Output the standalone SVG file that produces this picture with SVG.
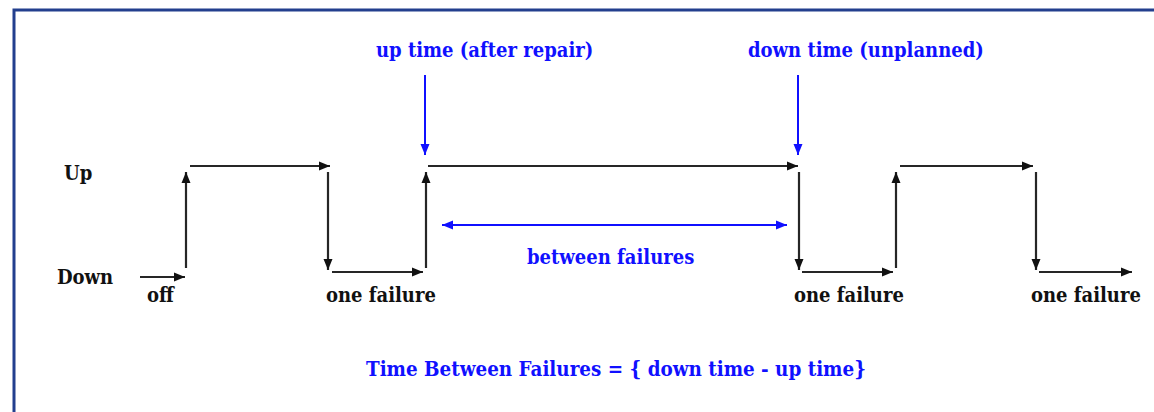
<svg xmlns="http://www.w3.org/2000/svg" width="1154" height="412" viewBox="0 0 1154 412">
  <style>
    .lbl { font-family: "DejaVu Serif Condensed", "DejaVu Serif", "Liberation Serif", serif; font-stretch: condensed; font-weight: bold; font-size: 20px; }
    .dark { fill: #111; }
    .blue { fill: #1010ff; }
    .sig { stroke: #262626; stroke-width: 2.2; fill: none; marker-end: url(#headBlack); }
    .mark { stroke: #1010ff; stroke-width: 2; fill: none; }
  </style>
  <defs>
    <marker id="headBlack" markerUnits="userSpaceOnUse" markerWidth="12" markerHeight="10" refX="11" refY="5" orient="auto">
      <path d="M0,0.5 L11,5 L0,9.5 z" fill="#111"/>
    </marker>
    <marker id="headBlue" markerUnits="userSpaceOnUse" markerWidth="12" markerHeight="10" refX="11" refY="5" orient="auto-start-reverse">
      <path d="M0,0.5 L11,5 L0,9.5 z" fill="#1010ff"/>
    </marker>
  </defs>

  <rect x="14" y="10" width="1160" height="420" fill="#fff" stroke="#233f8e" stroke-width="3"/>

  <g id="axis-labels">
    <text class="lbl dark" x="64" y="180">Up</text>
    <text class="lbl dark" x="57" y="284">Down</text>
  </g>

  <g id="connectors">
    <!-- state trace -->
    <line class="sig" x1="140" y1="277" x2="185" y2="277"/>
    <line class="sig" x1="186" y1="268" x2="186" y2="172"/>
    <line class="sig" x1="190" y1="166" x2="330" y2="166"/>
    <line class="sig" x1="328" y1="172" x2="328" y2="270"/>
    <line class="sig" x1="332" y1="272" x2="423" y2="272"/>
    <line class="sig" x1="426" y1="268" x2="426" y2="172"/>
    <line class="sig" x1="428" y1="166" x2="798" y2="166"/>
    <line class="sig" x1="799" y1="172" x2="799" y2="270"/>
    <line class="sig" x1="802" y1="272" x2="893" y2="272"/>
    <line class="sig" x1="896" y1="268" x2="896" y2="172"/>
    <line class="sig" x1="900" y1="166" x2="1033" y2="166"/>
    <line class="sig" x1="1036" y1="172" x2="1036" y2="270"/>
    <line class="sig" x1="1039" y1="272" x2="1132" y2="272"/>
    <!-- event markers -->
    <line class="mark" x1="425" y1="75" x2="425" y2="155" marker-end="url(#headBlue)"/>
    <line class="mark" x1="798" y1="75" x2="798" y2="155" marker-end="url(#headBlue)"/>
    <line class="mark" x1="442" y1="225" x2="787" y2="225" marker-start="url(#headBlue)" marker-end="url(#headBlue)"/>
  </g>

  <g id="event-labels">
    <text class="lbl dark" x="147" y="302">off</text>
    <text class="lbl dark" x="326" y="302">one failure</text>
    <text class="lbl dark" x="794" y="302">one failure</text>
    <text class="lbl dark" x="1031" y="302">one failure</text>
  </g>

  <g id="annotations">
    <text class="lbl blue" x="376" y="57">up time (after repair)</text>
    <text class="lbl blue" x="748" y="57">down time (unplanned)</text>
    <text class="lbl blue" x="527" y="264">between failures</text>
    <text class="lbl blue" x="366" y="376" style="font-size:20.4px">Time Between Failures = { down time - up time}</text>
  </g>
</svg>
